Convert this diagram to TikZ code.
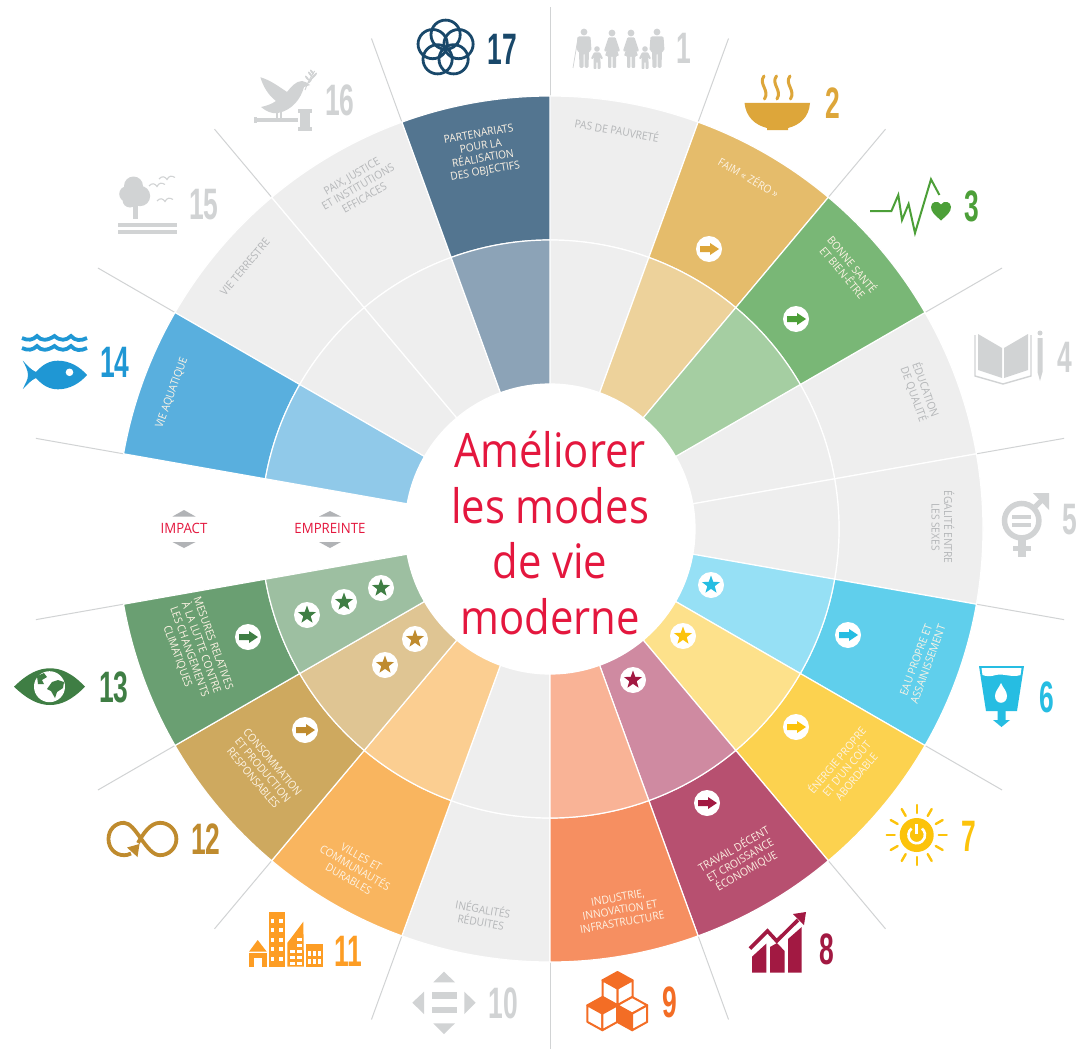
\documentclass[tikz,border=0pt]{standalone}
\usepackage{fontspec}
\usepackage{graphicx}
\usetikzlibrary{shapes.geometric,calc}
\setmainfont{Open Sans}
\newfontfamily\labf[FakeStretch=0.93]{Open Sans}
\newfontfamily\ctrf[FakeStretch=0.88]{Open Sans}
\newfontfamily\numf{Liberation Sans}
\definecolor{colgc}{HTML}{EEEEEE}
\definecolor{colig}{HTML}{D1D3D4}
\definecolor{redt}{HTML}{E4173E}
\definecolor{coltri}{HTML}{B1B3B6}
\definecolor{collg}{HTML}{B4B6B8}
\definecolor{collw}{HTML}{FDF3E4}
\definecolor{colb}{HTML}{DDA63A}\definecolor{colc}{HTML}{4C9F38}
\definecolor{colf}{HTML}{26BDE2}\definecolor{colg}{HTML}{FCC30B}
\definecolor{colh}{HTML}{A21942}\definecolor{coli}{HTML}{F36D25}
\definecolor{colk}{HTML}{FD9D24}\definecolor{coll}{HTML}{BF8B2E}
\definecolor{colm}{HTML}{3F7E44}\definecolor{coln}{HTML}{1F97D4}
\definecolor{colq}{HTML}{19486A}
\definecolor{ob}{HTML}{E5BC6B}\definecolor{ib}{HTML}{EDD29B}
\definecolor{oc}{HTML}{79B776}\definecolor{ic}{HTML}{A5CEA2}
\definecolor{of}{HTML}{60CFEC}\definecolor{if}{HTML}{96E0F5}
\definecolor{og}{HTML}{FCD24F}\definecolor{ig}{HTML}{FDE18B}
\definecolor{oh}{HTML}{B75070}\definecolor{ih}{HTML}{CF8AA1}
\definecolor{oi}{HTML}{F68F61}\definecolor{ii}{HTML}{F9B396}
\definecolor{ok}{HTML}{F9B55F}\definecolor{ik}{HTML}{FBCE91}
\definecolor{ol}{HTML}{CEA95F}\definecolor{il}{HTML}{DFC593}
\definecolor{om}{HTML}{6A9F72}\definecolor{im}{HTML}{9DBFA1}
\definecolor{on}{HTML}{59AFDE}\definecolor{in}{HTML}{90C9E9}
\definecolor{oq}{HTML}{537590}\definecolor{iq}{HTML}{8CA3B7}
\tikzset{
  seg/.style={fill=#1,draw=white,line width=1.2pt,line join=miter},
  ray/.style={draw=colig,line width=1pt},
  lab/.style={align=center,inner sep=0pt,font=\labf\fontsize{11}{12.6}\selectfont,text=#1},
  num/.style={inner sep=0pt,text=#1},
  star5/.style={star,star points=5,star point ratio=2.45,fill=#1,minimum size=19pt,inner sep=0pt,draw=none},
  disc/.style={circle,fill=white,minimum size=26pt,inner sep=0pt,draw=none},
  hint/.style={fill=coltri,draw=none},
}
\newcommand\segm[4]{% start angle, r1, r2, colour
  \path[seg=#4] (#1:#2) -- (#1:#3) arc[start angle=#1,end angle={#1+20},radius=#3] -- ({#1+20}:#2) arc[start angle={#1+20},end angle=#1,radius=#2] -- cycle;}
\newcommand\sdgnum[4]{\node[num=#4] (n#1) at (#2,#3) {\scalebox{.6}[1]{\numf\fontsize{44}{44}\selectfont\bfseries #1}};}
\newcommand\arrowmark[4]{\node[disc] (a#4) at (#1,#2) {};
  \fill[#3] ({#1-9},{#2-3}) -- ({#1+1},{#2-3}) -- ({#1+1},{#2-6}) -- ({#1+10},#2) -- ({#1+1},{#2+6}) -- ({#1+1},{#2+3}) -- ({#1-9},{#2+3}) -- cycle;}
\newcommand\starmark[4]{\node[disc] (s#4) at (#1,#2) {}; \node[star5=#3] (t#4) at (#1,#2) {};}
\newcommand\manfig[2]{\begin{scope}[shift={(#1,#2)}]
  \fill[colig] (0,0) circle (3.4);
  \fill[colig,rounded corners=1.5] (-6.5,4.3) -- (6.5,4.3) -- (7.5,19) -- (5,19) -- (4.5,36) -- (0.5,36) -- (0.5,21) -- (-0.5,21) -- (-0.5,36) -- (-4.5,36) -- (-5,19) -- (-7.5,19) -- cycle;
  \end{scope}}
\newcommand\womanfig[2]{\begin{scope}[shift={(#1,#2)}]
  \fill[colig] (0,0) circle (3.4);
  \fill[colig,rounded corners=1] (-3.5,4.3) -- (3.5,4.3) -- (8,18) -- (6,19) -- (4.5,15) -- (7,23) -- (4,23) -- (4,35) -- (0.6,35) -- (0.6,23) -- (-0.6,23) -- (-0.6,35) -- (-4,35) -- (-4,23) -- (-7,23) -- (-4.5,15) -- (-6,19) -- (-8,18) -- cycle;
  \end{scope}}
\newcommand\childfig[2]{\begin{scope}[shift={(#1,#2)}]
  \fill[colig] (0,0) circle (2.8);
  \fill[colig,rounded corners=.8] (-3,3.4) -- (3,3.4) -- (6,9.5) -- (4.5,10.5) -- (3,8) -- (3.5,12) -- (3.5,20) -- (.6,20) -- (.6,13) -- (-.6,13) -- (-.6,20) -- (-3.5,20) -- (-3.5,12) -- (-3,8) -- (-4.5,10.5) -- (-6,9.5) -- cycle;
  \end{scope}}
\newcommand\isocube[5]{\begin{scope}[shift={(#1,#2)},line width=2pt,draw=coli,line join=round]
  \filldraw[fill=#3] (0,0) -- (15,8.3) -- (0,16.6) -- (-15,8.3) -- cycle;
  \filldraw[fill=#4] (-15,8.3) -- (0,16.6) -- (0,33.2) -- (-15,24.9) -- cycle;
  \filldraw[fill=#5] (15,8.3) -- (0,16.6) -- (0,33.2) -- (15,24.9) -- cycle;
  \end{scope}}
\newcommand\birdm[2]{\draw[colig,line width=1.1pt] ({#1-8},{#2+1}) .. controls ({#1-5},{#2-2.5}) and ({#1-2},{#2-1.5}) .. (#1,{#2+1.5}) .. controls ({#1+2},{#2-2.5}) and ({#1+5},{#2-2.5}) .. ({#1+8},{#2-.5});}
\begin{document}
\begin{tikzpicture}[x=1pt,y=-1pt]
\useasboundingbox (0,0) rectangle (1085,1049);
\fill[white] (0,0) rectangle (1085,1049);
\begin{scope}[shift={(550,529)}]
  \foreach \a in {-90,-70,...,250} { \draw[ray] (\a:433) -- (\a:522); }
  \segm{-90}{289}{433}{colgc} \segm{-30}{289}{433}{colgc} \segm{-10}{289}{433}{colgc}
  \segm{90}{289}{433}{colgc} \segm{210}{289}{433}{colgc} \segm{230}{289}{433}{colgc}
  \segm{-90}{145}{289}{colgc} \segm{-30}{145}{289}{colgc} \segm{-10}{145}{289}{colgc}
  \segm{90}{145}{289}{colgc} \segm{210}{145}{289}{colgc} \segm{230}{145}{289}{colgc}
  \segm{-70}{289}{433}{ob}\segm{-70}{145}{289}{ib}
  \segm{-50}{289}{433}{oc}\segm{-50}{145}{289}{ic}
  \segm{10}{289}{433}{of}\segm{10}{145}{289}{if}
  \segm{30}{289}{433}{og}\segm{30}{145}{289}{ig}
  \segm{50}{289}{433}{oh}\segm{50}{145}{289}{ih}
  \segm{70}{289}{433}{oi}\segm{70}{145}{289}{ii}
  \segm{110}{289}{433}{ok}\segm{110}{145}{289}{ik}
  \segm{130}{289}{433}{ol}\segm{130}{145}{289}{il}
  \segm{150}{289}{433}{om}\segm{150}{145}{289}{im}
  \segm{190}{289}{433}{on}\segm{190}{145}{289}{in}
  \segm{250}{289}{433}{oq}\segm{250}{145}{289}{iq}
  \fill[white] (0,0) circle (145);
\end{scope}
% centre title
\node[align=center,inner sep=0pt,text=redt,font=\ctrf\fontsize{47.5}{55.5}\selectfont] (title) at (550,533) {Améliorer\\les modes\\de vie\\moderne};
% sector labels
\node[lab=collg,rotate=-10] (l1) at (617,130) {PAS DE PAUVRETÉ};
\node[lab=collw,rotate=-30] (l2) at (749,177) {FAIM « ZÉRO »};
\node[lab=collw,rotate=-50] (l3) at (848,268) {BONNE SANTÉ\\ET BIEN-ÊTRE};
\node[lab=collg,rotate=-70] (l4) at (920,392) {ÉDUCATION\\DE QUALITÉ};
\node[lab=collg,rotate=-90] (l5) at (943,527) {ÉGALITÉ ENTRE\\LES SEXES};
\node[lab=collw,rotate=70] (l6) at (922,662) {EAU PROPRE ET\\ASSAINISSEMENT};
\node[lab=collw,rotate=50] (l7) at (846,768) {ÉNERGIE PROPRE\\ET D’UN COÛT\\ABORDABLE};
\node[lab=collw,rotate=30] (l8) at (740,860) {TRAVAIL DÉCENT\\ET CROISSANCE\\ÉCONOMIQUE};
\node[lab=collw,rotate=10] (l9) at (620,910) {INDUSTRIE,\\INNOVATION ET\\INFRASTRUCTURE};
\node[lab=collg,rotate=-10] (l10) at (482,915) {INÉGALITÉS\\RÉDUITES};
\node[lab=collw,rotate=-30] (l11) at (355,868) {VILLES ET\\COMMUNAUTÉS\\DURABLES};
\node[lab=collw,rotate=-50] (l12) at (263,770) {CONSOMMATION\\ET PRODUCTION\\RESPONSABLES};
\node[lab=collw,rotate=-70] (l13) at (195,650) {MESURES RELATIVES\\À LA LUTTE CONTRE\\LES CHANGEMENTS\\CLIMATIQUES};
\node[lab=collw,rotate=70] (l14) at (172,393) {VIE AQUATIQUE};
\node[lab=collg,rotate=50] (l15) at (245,267) {VIE TERRESTRE};
\node[lab=collg,rotate=30] (l16) at (358,187) {PAIX, JUSTICE\\ET INSTITUTIONS\\EFFICACES};
\node[lab=collw,rotate=10] (l17) at (482,153) {PARTENARIATS\\POUR LA\\RÉALISATION\\DES OBJECTIFS};
% impact / empreinte
\node[lab=redt,font=\labf\fontsize{14.2}{14}\selectfont] (impact) at (184,528.5) {IMPACT};
\node[lab=redt,font=\labf\fontsize{14.2}{14}\selectfont] (empreinte) at (330,528.5) {EMPREINTE};
\fill[hint] (184,510) -- (195.5,516.5) -- (172.5,516.5) -- cycle;
\fill[hint] (184,548) -- (195.5,542) -- (172.5,542) -- cycle;
\fill[hint] (330,511) -- (341,516.5) -- (319,516.5) -- cycle;
\fill[hint] (330,548) -- (341,542) -- (319,542) -- cycle;
% arrows in discs
\arrowmark{709}{249}{colb}{2}
\arrowmark{796}{319}{colc}{3}
\arrowmark{848}{635}{colf}{6}
\arrowmark{796}{727}{colg}{7}
\arrowmark{707}{803}{colh}{8}
\arrowmark{305}{730}{coll}{12}
\arrowmark{248}{637}{colm}{13}
% stars in discs
\starmark{711}{585}{colf}{6}
\starmark{683}{636}{colg}{7}
\starmark{633}{680}{colh}{8}
\starmark{415}{639}{coll}{12a}
\starmark{385}{665}{coll}{12b}
\starmark{307}{615}{colm}{13a}
\starmark{344}{602}{colm}{13b}
\starmark{381}{588}{colm}{13c}
% numerals
\sdgnum{1}{684}{48}{colig}
\sdgnum{2}{833}{103}{colb}
\sdgnum{3}{972}{206}{colc}
\sdgnum{4}{1065}{357}{colig}
\sdgnum{5}{1070}{520}{colig}
\sdgnum{6}{1047}{697}{colf}
\sdgnum{7}{969}{836}{colg}
\sdgnum{8}{827}{949}{colh}
\sdgnum{9}{670}{1002}{coli}
\sdgnum{10}{503}{1003}{colig}
\sdgnum{11}{348}{951}{colk}
\sdgnum{12}{206}{839}{coll}
\sdgnum{13}{114}{687}{colm}
\sdgnum{14}{115}{362}{coln}
\sdgnum{15}{204}{205}{colig}
\sdgnum{16}{340}{100}{colig}
\sdgnum{17}{502}{49}{colq}
% icon 1
\manfig{584}{32}\childfig{597}{49}\womanfig{612}{33}\womanfig{631}{33}\childfig{645}{49}\manfig{657}{32}
\draw[colig,line width=.7pt] (578,38) -- (573,68);
% icon 2
\fill[colb] (744.5,103) -- (810,103) .. controls (809,117) and (800,125) .. (788,128) -- (788,130) -- (767,130) -- (767,128) .. controls (755,125) and (746,117) .. cycle;
\foreach \x in {764,776.5,790}{
  \draw[colb,line width=3pt,line cap=round] (\x,76) .. controls ({\x-6},84) and ({\x+6},90) .. ({\x+.5},99);}
% icon 3
\draw[colc,line width=2pt,line join=miter] (870,211) -- (891.4,211) -- (898.3,195) -- (902,220) -- (908.6,204) -- (915,233) -- (931,179.3) -- (939.4,195);
\fill[colc] (941,220.5) .. controls (935,215) and (931,212) .. (931,207) .. controls (931,201.5) and (938,200) .. (941,204.5) .. controls (944,200) and (951,201.5) .. (951,207) .. controls (951,212) and (947,215) .. cycle;
% icon 4
\fill[colig] (978,334) -- (1002,348) -- (1002,378) -- (978,370) -- cycle;
\fill[colig] (1004,348) -- (1028,334) -- (1028,370) -- (1004,378) -- cycle;
\draw[colig,line width=1.4pt] (975,335) -- (975,376) -- (1003,384) -- (1031,376) -- (1031,335);
\fill[colig] (1040,333) circle (2.5);
\fill[colig] (1037.5,338) -- (1042.5,338) -- (1042.5,372) -- (1040,381) -- (1037.5,372) -- cycle;
% icon 5
\draw[colig,line width=5.5pt] (1021.7,520.7) circle (17.2);
\fill[colig] (1012,515) rectangle (1031,519.3);
\fill[colig] (1012,522.7) rectangle (1031,526.7);
\fill[colig] (1018,540) rectangle (1026,557);
\fill[colig] (1012.7,546) rectangle (1030.7,551);
\draw[colig,line width=5pt] (1033,509) -- (1045,497);
\fill[colig] (1049,493) -- (1033,493) -- (1049,510) -- cycle;
% icon 6
\fill[colf] (979,666) -- (1024,666) -- (1017,711) -- (986,711) -- cycle;
\fill[white] (981.5,668) -- (1021.5,668) -- (1020.5,675) .. controls (1012,678) and (1003,673) .. (996,675) .. controls (990,677) and (985,676) .. (982.5,675) -- cycle;
\fill[white] (1001,683) .. controls (1003,688) and (1007,691) .. (1007,696) .. controls (1007,705) and (995,705) .. (995,696) .. controls (995,691) and (999,688) .. cycle;
\fill[colf] (997.5,711) -- (1005.5,711) -- (1005.5,720) -- (1010,720) -- (1001.5,727) -- (993,720) -- (997.5,720) -- cycle;
% icon 7
\fill[colg] (916.7,835) circle (17);
\draw[white,line width=2.6pt] (911.5,828.5) arc[start angle=231,end angle=-51,radius=8.3];
\draw[white,line width=2.6pt] (916.7,824) -- (916.7,834);
\foreach \t in {0,30,...,330}{ \draw[colg,line width=2.4pt,line cap=round] ($(916.7,835)+(\t:22)$) -- ($(916.7,835)+(\t:30)$); }
% icon 8
\fill[colh] (752,972.7) -- (752,956.7) -- (766.4,943.5) -- (766.4,972.7) -- cycle;
\fill[colh] (770,972.7) -- (770,947) -- (777,943) -- (784.6,951) -- (784.6,972.7) -- cycle;
\fill[colh] (788,972.7) -- (788,939) -- (801.7,927) -- (801.7,972.7) -- cycle;
\draw[colh,line width=3.6pt] (750,948.5) -- (767.5,931) -- (776.7,941) -- (798,920);
\fill[colh] (806,912) -- (793,914) -- (804,925) -- cycle;
% icon 9
\isocube{617.5}{972}{coli}{white}{white}
\isocube{602.4}{997}{coli}{white}{white}
\isocube{632.2}{997}{white}{coli}{white}
% icon 10
\fill[colig] (444,971.7) -- (455,982.3) -- (433.3,982.3) -- cycle;
\fill[colig] (433.3,1023.3) -- (455,1023.3) -- (444,1034) -- cycle;
\fill[colig] (412.3,1002.7) -- (424,991.7) -- (424,1014) -- cycle;
\fill[colig] (475.7,1002.7) -- (464.3,991.7) -- (464.3,1014) -- cycle;
\fill[colig] (431.7,992.3) rectangle (456.7,999.3);
\fill[colig] (431.7,1006.7) rectangle (456.7,1013.3);
% icon 11
\fill[colk] (257.7,940) -- (266.7,951.7) -- (249,951.7) -- cycle;
\fill[colk] (249,952.7) rectangle (266.7,966.7);
\fill[white] (254,957.7) rectangle (261.7,966.7);
\fill[colk] (268.7,911.7) rectangle (285.3,966.7);
\foreach \y in {919,928,938,947,957}{ \fill[white] (270.7,\y) rectangle ++(3.7,3.7); \fill[white] (279,\y) rectangle ++(3.7,3.7);}
\fill[colk] (287.3,966.7) -- (287.3,943) -- (303.3,921.7) -- (304,966.7) -- cycle;
\foreach \y in {950,956,962}{ \fill[white] (289.5,\y) rectangle ++(5,3.4); \fill[white] (296.5,\y) rectangle ++(5,3.4);}
\foreach \y in {938,944}{ \fill[white] (296.5,\y) rectangle ++(5,3.4);}
\fill[colk] (305.7,944) rectangle (322.7,966.7);
\foreach \y in {950.5,958.5}{ \fill[white] (307.5,\y) rectangle ++(3.6,5); \fill[white] (312.7,\y) rectangle ++(3.6,5); \fill[white] (317.7,\y) rectangle ++(3.6,5);}
% icon 12
\draw[coll,line width=3.8pt] (131,853.5) .. controls (128,855) and (126,855.2) .. (124,855.2) .. controls (115,855.2) and (108.5,848) .. (108.5,839) .. controls (108.5,830) and (115,822.8) .. (124,822.8) .. controls (136,822.8) and (146,855.2) .. (160,855.2) .. controls (169,855.2) and (176.4,848) .. (176.4,839) .. controls (176.4,830) and (169,822.8) .. (160,822.8) .. controls (150,822.8) and (143,834) .. (138,843);
\fill[coll] (127,847.5) -- (139.5,844) -- (137.5,857) -- cycle;
% icon 13
\fill[colm] (14,686.7) .. controls (28,673) and (39,668.3) .. (50,668.3) .. controls (61,668.3) and (72,673) .. (85,686.7) .. controls (72,700) and (61,705) .. (50,705) .. controls (39,705) and (28,700) .. cycle;
\fill[white] (49.5,686.7) circle (15.5);
\fill[colm] (37,676) -- (44,673) -- (47,677) -- (42,680) -- (44,684) -- (38,684) -- cycle;
\fill[colm] (47,689) -- (52,682) -- (58,680) -- (64,682) -- (63,688) -- (57,692) -- (55,698) -- (51,691) -- cycle;
% icon 14
\foreach \y in {338,348}{
 \draw[coln,line width=3.8pt] (22,\y) .. controls (28,{\y+3}) and (33,{\y+2}) .. (37,{\y-2}) .. controls (41,{\y+3}) and (47,{\y+3}) .. (54.5,{\y-2}) .. controls (60,{\y+3}) and (66,{\y+3}) .. (71,{\y-2}) .. controls (75,{\y+3}) and (81,{\y+3}) .. (87,\y);}
\fill[coln] (22.8,360.7) .. controls (27,365) and (31,370) .. (36,372) .. controls (43,364) and (50,360.7) .. (58,360.7) .. controls (70,360.7) and (80,367) .. (87,375) .. controls (80,383) and (70,389.3) .. (58,389.3) .. controls (50,389.3) and (43,386) .. (36,378) .. controls (31,380) and (27,385) .. (22.8,389) .. controls (25,384) and (28,380) .. (28,375) .. controls (28,370) and (25,365) .. cycle;
\fill[white] (69.5,372.3) circle (3.8);
% icon 15
\fill[colig] (133.5,186) circle (9.5);
\fill[colig] (127,194) circle (7.8);
\fill[colig] (140,196) circle (10.2);
\fill[colig] (130,200) circle (7.5);
\fill[colig] (133.3,205) rectangle (137.5,219);
\fill[colig] (117.5,223.3) rectangle (176.5,226.7);
\fill[colig] (117.5,230) rectangle (176.5,234);
\birdm{157}{185}\birdm{167}{178}\birdm{165}{200}
% icon 16
\fill[colig] (260.4,77.3) .. controls (270,80) and (278,86) .. (287,92) .. controls (291,87) and (296,81) .. (302,81) .. controls (305,81) and (307,83) .. (310,85) -- (304,87) .. controls (301,98) and (293,110) .. (278,113) .. controls (271,114) and (266,111) .. (261,107) .. controls (266,106) and (272,104) .. (276,101) .. controls (268,95) and (263,86) .. cycle;
\fill[colig] (276,112) rectangle (278,118); \fill[colig] (280,112) rectangle (282,118);
\fill[colig] (254.4,117) rectangle (257,123);
\fill[colig] (257,118.3) rectangle (298,121.5);
\fill[colig] (298,109) rectangle (311.6,112.5);
\fill[colig] (299.5,113.3) rectangle (310.2,126.5);
\fill[colig] (298,127.2) rectangle (311.6,130.7);
\draw[colig,line width=1pt] (305,90) .. controls (307,84) and (310,78) .. (314.7,71);
\foreach \p/\q in {307/78,310/74,312/72}{ \fill[colig,rotate around={40:(\p,\q)}] (\p,\q) ellipse (1 and 3); \fill[colig,rotate around={-40:({\p+3},{\q+3})}] ({\p+3},{\q+3}) ellipse (1 and 3);}
% icon 17
\foreach \t in {-90,-18,54,126,198}{ \draw[colq,line width=2.8pt] ($(445.6,48.3)+(\t:13.6)$) circle (14.6); }
\end{tikzpicture}
\end{document}
